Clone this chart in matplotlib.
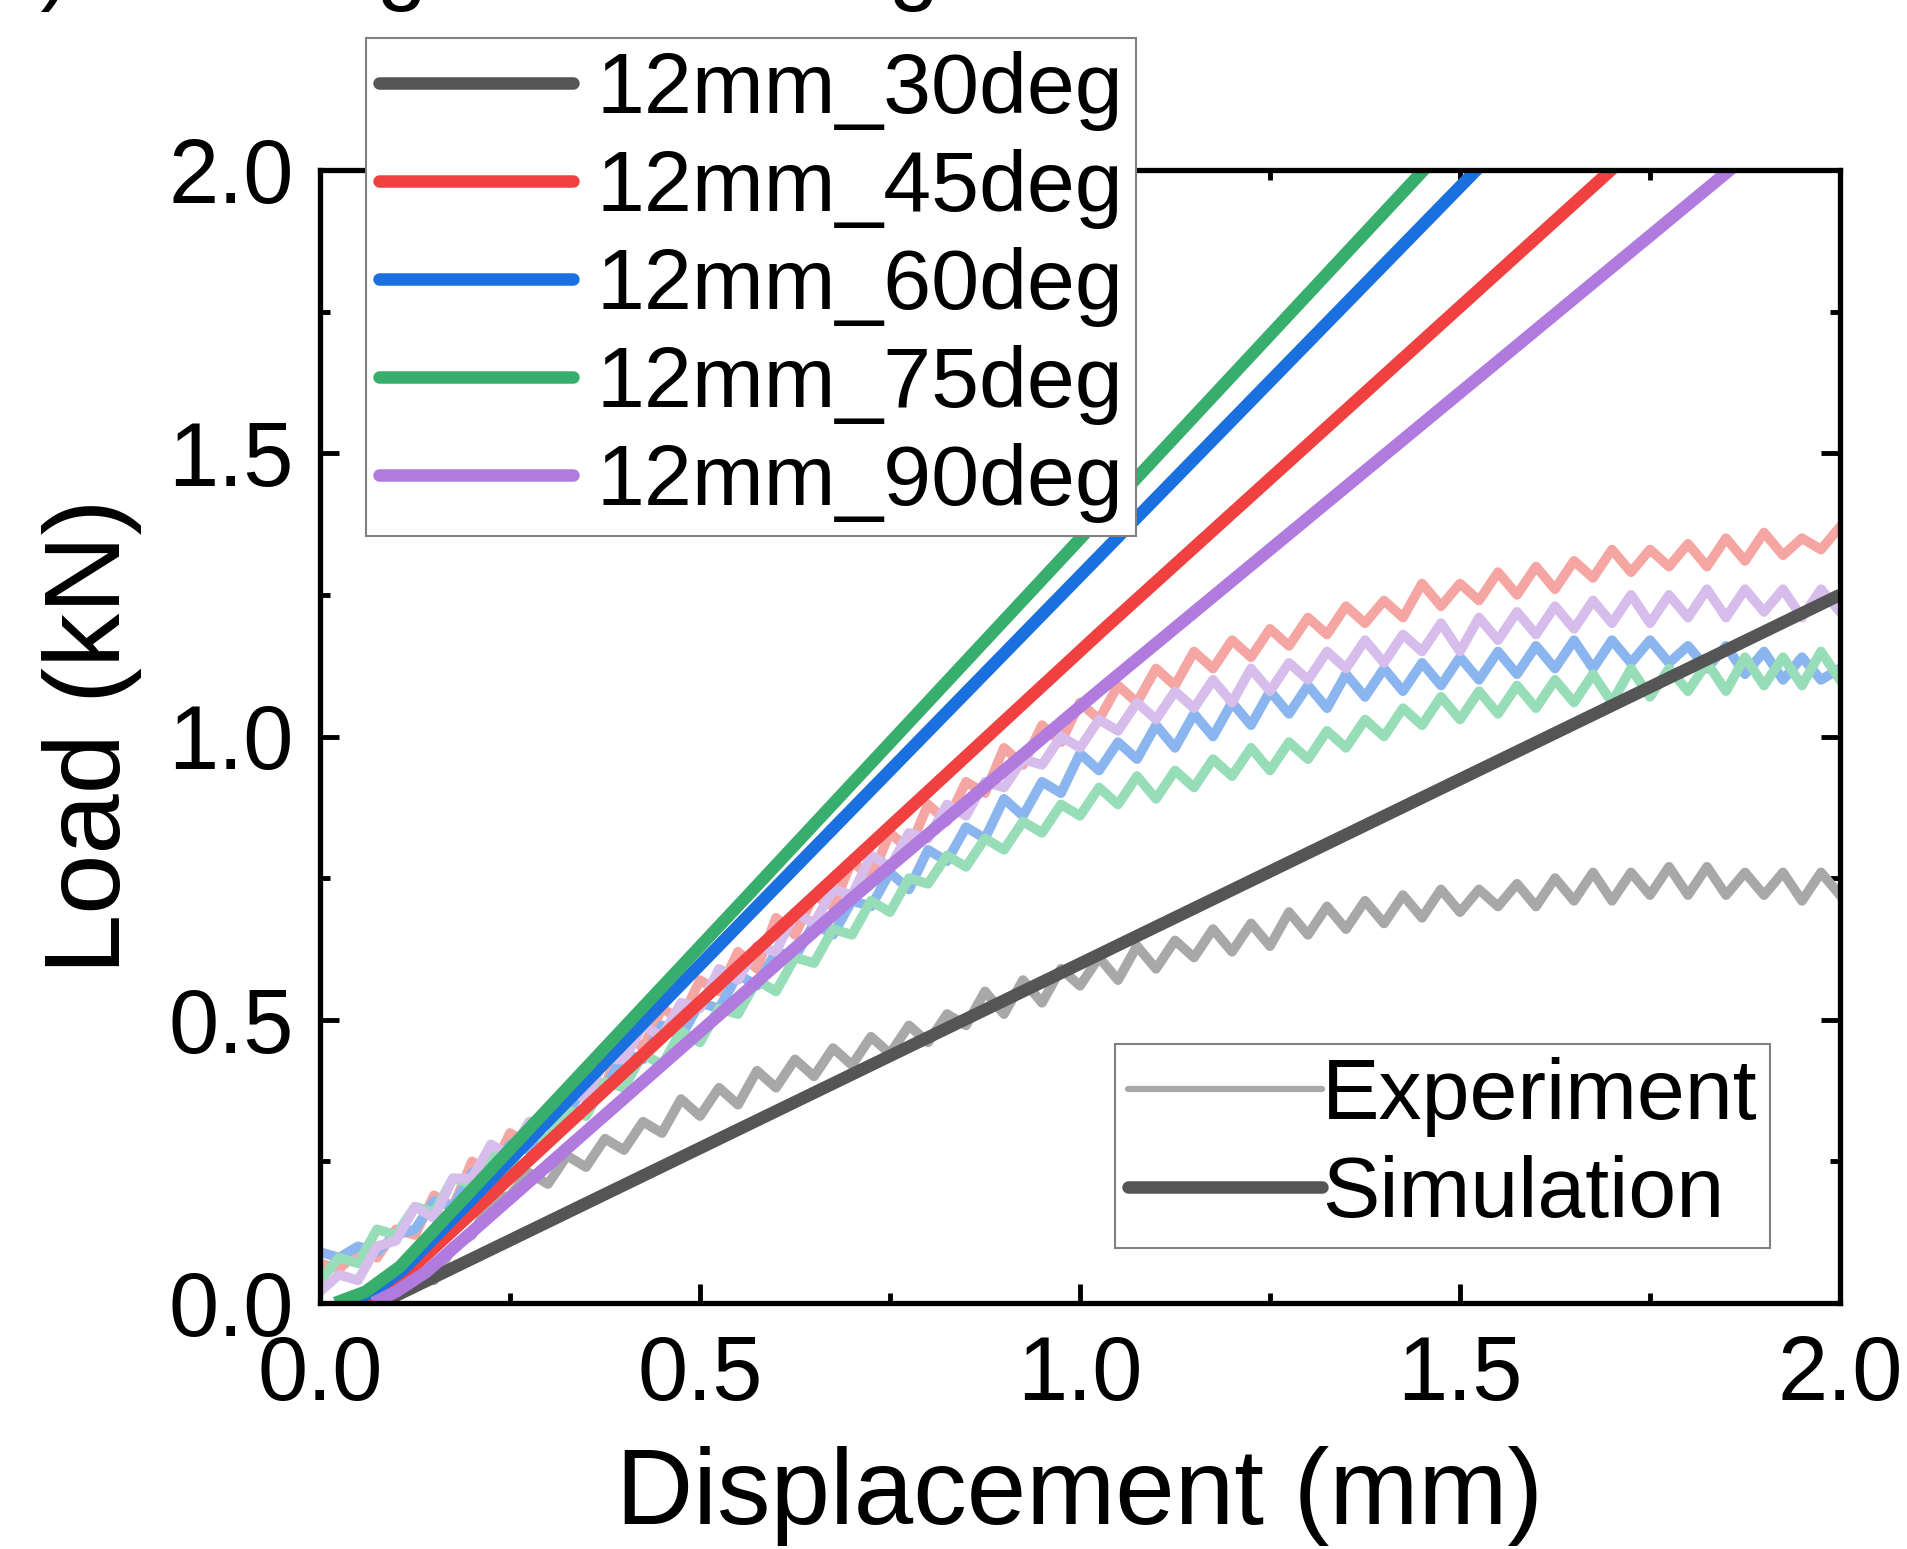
import numpy as np
import matplotlib
matplotlib.use('Agg')
import matplotlib.pyplot as plt
from matplotlib.lines import Line2D

plt.rcParams['font.family'] = ['Liberation Sans', 'DejaVu Sans']

# --- experiment curves (step 0.025 mm) ---
x_exp = np.linspace(0.0, 2.0, 81)
exp_45 = [0.07, 0.06, 0.09, 0.08, 0.13, 0.12, 0.19, 0.17, 0.25, 0.23,
          0.30, 0.28, 0.34, 0.33, 0.41, 0.38, 0.48, 0.45, 0.52, 0.50,
          0.57, 0.55, 0.62, 0.59, 0.68, 0.65, 0.72, 0.70, 0.78, 0.75,
          0.83, 0.80, 0.88, 0.85, 0.92, 0.90, 0.98, 0.95, 1.02, 0.99,
          1.06, 1.03, 1.09, 1.06, 1.12, 1.09, 1.15, 1.12, 1.17, 1.14,
          1.19, 1.16, 1.21, 1.18, 1.23, 1.20, 1.24, 1.21, 1.27, 1.23,
          1.27, 1.24, 1.29, 1.25, 1.30, 1.26, 1.31, 1.28, 1.33, 1.29,
          1.33, 1.30, 1.34, 1.30, 1.35, 1.31, 1.36, 1.32, 1.35, 1.33,
          1.37]
exp_90 = [0.02, 0.05, 0.04, 0.10, 0.11, 0.17, 0.15, 0.22, 0.22, 0.28,
          0.26, 0.32, 0.32, 0.38, 0.36, 0.43, 0.43, 0.49, 0.47, 0.53,
          0.52, 0.59, 0.57, 0.63, 0.62, 0.69, 0.67, 0.73, 0.72, 0.79,
          0.77, 0.83, 0.82, 0.88, 0.86, 0.92, 0.91, 0.96, 0.95, 1.00,
          0.98, 1.03, 1.01, 1.06, 1.03, 1.08, 1.05, 1.10, 1.06, 1.12,
          1.08, 1.13, 1.10, 1.15, 1.12, 1.17, 1.13, 1.18, 1.15, 1.20,
          1.15, 1.21, 1.17, 1.22, 1.18, 1.23, 1.19, 1.24, 1.20, 1.25,
          1.20, 1.25, 1.21, 1.26, 1.21, 1.26, 1.22, 1.26, 1.21, 1.26,
          1.22]
exp_60 = [0.09, 0.08, 0.10, 0.09, 0.12, 0.13, 0.18, 0.17, 0.23, 0.23,
          0.28, 0.27, 0.33, 0.33, 0.39, 0.38, 0.44, 0.43, 0.49, 0.47,
          0.53, 0.52, 0.58, 0.56, 0.62, 0.61, 0.67, 0.65, 0.71, 0.70,
          0.76, 0.73, 0.80, 0.78, 0.84, 0.82, 0.89, 0.86, 0.92, 0.90,
          0.97, 0.94, 0.99, 0.96, 1.02, 0.98, 1.04, 1.00, 1.06, 1.02,
          1.08, 1.04, 1.09, 1.05, 1.11, 1.07, 1.12, 1.08, 1.13, 1.09,
          1.14, 1.10, 1.15, 1.11, 1.16, 1.12, 1.17, 1.12, 1.17, 1.13,
          1.17, 1.13, 1.16, 1.12, 1.16, 1.11, 1.15, 1.10, 1.14, 1.10,
          1.12]
exp_75 = [0.04, 0.08, 0.07, 0.13, 0.12, 0.17, 0.16, 0.22, 0.21, 0.26,
          0.24, 0.30, 0.29, 0.34, 0.33, 0.39, 0.38, 0.44, 0.42, 0.48,
          0.46, 0.52, 0.51, 0.57, 0.55, 0.61, 0.60, 0.66, 0.65, 0.71,
          0.69, 0.75, 0.74, 0.79, 0.77, 0.82, 0.80, 0.85, 0.83, 0.88,
          0.86, 0.91, 0.88, 0.93, 0.89, 0.94, 0.91, 0.96, 0.93, 0.98,
          0.94, 0.99, 0.96, 1.01, 0.98, 1.03, 1.00, 1.05, 1.02, 1.07,
          1.03, 1.08, 1.04, 1.09, 1.05, 1.10, 1.06, 1.11, 1.06, 1.12,
          1.07, 1.12, 1.08, 1.13, 1.08, 1.14, 1.09, 1.14, 1.09, 1.15,
          1.10]
x_exp30 = np.linspace(0.1, 2.0, 77)
exp_30 = [0.02, 0.05, 0.04, 0.10, 0.12, 0.18, 0.19, 0.23, 0.21, 0.26,
          0.24, 0.29, 0.27, 0.32, 0.30, 0.36, 0.33, 0.38, 0.35, 0.41,
          0.38, 0.43, 0.40, 0.45, 0.42, 0.47, 0.44, 0.49, 0.46, 0.51,
          0.49, 0.55, 0.51, 0.57, 0.53, 0.59, 0.56, 0.61, 0.57, 0.63,
          0.59, 0.64, 0.61, 0.66, 0.62, 0.67, 0.63, 0.69, 0.65, 0.70,
          0.66, 0.71, 0.67, 0.72, 0.68, 0.73, 0.69, 0.73, 0.70, 0.74,
          0.70, 0.75, 0.71, 0.76, 0.71, 0.76, 0.72, 0.77, 0.72, 0.77,
          0.72, 0.76, 0.72, 0.76, 0.71, 0.76, 0.72]

# --- simulation curves ---
sim_30_x = [0.08, 2.0]
sim_30_y = [0.0, 1.25]
sim_45_x = [0.05, 0.08, 0.12, 0.645, 1.026, 1.74]
sim_45_y = [0.0, 0.02, 0.06, 0.711, 1.183, 2.05]
sim_60_x = [0.03, 0.07, 0.11, 0.583, 0.969, 1.558]
sim_60_y = [0.0, 0.02, 0.06, 0.711, 1.241, 2.05]
sim_75_x = [0.02, 0.06, 0.105, 0.557, 0.925, 1.487]
sim_75_y = [0.0, 0.02, 0.064, 0.711, 1.241, 2.05]
sim_90_x = [0.07, 0.10, 0.14, 0.697, 1.026, 1.90]
sim_90_y = [0.0, 0.02, 0.055, 0.711, 1.082, 2.05]

labels = ['12mm_30deg', '12mm_45deg', '12mm_60deg', '12mm_75deg', '12mm_90deg']
sim_colors = ['#555555', '#F04040', '#1A70DE', '#38AE6C', '#B07ADF']
exp_colors = ['#A8A8A8', '#F6A6A2', '#8AB5EE', '#97DDB8', '#D7BDEC']

fig = plt.figure(figsize=(19.08, 15.49), dpi=100)
ax = fig.add_axes([320 / 1908, 1 - 1303 / 1549, 1520 / 1908, 1133 / 1549])

lw_exp = 7.0
lw_sim = 9.0
ax.plot(x_exp30, exp_30, color=exp_colors[0], lw=lw_exp)
ax.plot(x_exp, exp_45, color=exp_colors[1], lw=lw_exp)
ax.plot(x_exp, exp_60, color=exp_colors[2], lw=lw_exp)
ax.plot(x_exp, exp_75, color=exp_colors[3], lw=lw_exp)
ax.plot(x_exp, exp_90, color=exp_colors[4], lw=lw_exp)

sims = [(sim_30_x, sim_30_y), (sim_45_x, sim_45_y), (sim_60_x, sim_60_y),
        (sim_75_x, sim_75_y), (sim_90_x, sim_90_y)]
handles = []
for (sx, sy), c, lab in zip(sims, sim_colors, labels):
    h, = ax.plot(sx, sy, color=c, lw=lw_sim, label=lab, solid_capstyle='butt')
    handles.append(h)

ax.set_xlim(0, 2.0)
ax.set_ylim(0, 2.0)
ax.set_xticks([0, 0.5, 1.0, 1.5, 2.0])
ax.set_yticks([0, 0.5, 1.0, 1.5, 2.0])
ax.set_xticks(np.arange(0, 2.01, 0.25), minor=True)
ax.set_yticks(np.arange(0, 2.01, 0.25), minor=True)
ax.xaxis.set_major_formatter(plt.FormatStrFormatter('%.1f'))
ax.yaxis.set_major_formatter(plt.FormatStrFormatter('%.1f'))
ax.tick_params(which='both', direction='in', top=True, right=True, width=3.5,
               labelsize=65)
ax.tick_params(which='major', length=14)
ax.tick_params(which='minor', length=7.5)
ax.tick_params(axis='x', pad=22)
ax.tick_params(axis='y', pad=19)
for sp in ax.spines.values():
    sp.set_linewidth(3.8)

ax.set_xlabel('Displacement (mm)', fontsize=77)
ax.xaxis.label.set_va('baseline')
ax.xaxis.set_label_coords(0.5, (1303 - 1524) / 1133)
ax.set_ylabel('Load (kN)', fontsize=78)
ax.yaxis.label.set_va('center')
ax.yaxis.set_label_coords((92 - 320) / 1520, 0.5)

# title above the frame, mostly outside the canvas
fig.text(-40 / 1908, 1 + 7 / 1549, '(b) Bending tests of hinge', fontsize=65,
         va='baseline', ha='left')

leg_kw = dict(loc='upper left', bbox_transform=fig.transFigure, fontsize=62,
              handlelength=2.25, borderpad=0.15, labelspacing=0.21,
              borderaxespad=0, fancybox=False, framealpha=1, edgecolor='#808080')

leg1 = ax.legend(handles=handles, bbox_to_anchor=(366 / 1908, 1 - 38 / 1549),
                 handletextpad=0.28, **leg_kw)
leg1.get_frame().set_linewidth(1.5)
ax.add_artist(leg1)

h_exp = Line2D([], [], color='#A8A8A8', lw=4.5)
h_sim = Line2D([], [], color='#555555', lw=9.0)
leg2 = ax.legend(handles=[h_exp, h_sim], labels=['Experiment', 'Simulation'],
                 bbox_to_anchor=(1115 / 1908, 1 - 1044 / 1549),
                 handletextpad=0.0, **leg_kw)
leg2.get_frame().set_linewidth(1.5)

for leg in (leg1, leg2):
    for ln in leg.get_lines():
        ln.set_solid_capstyle('round')

fig.savefig('out.png', dpi=100)
